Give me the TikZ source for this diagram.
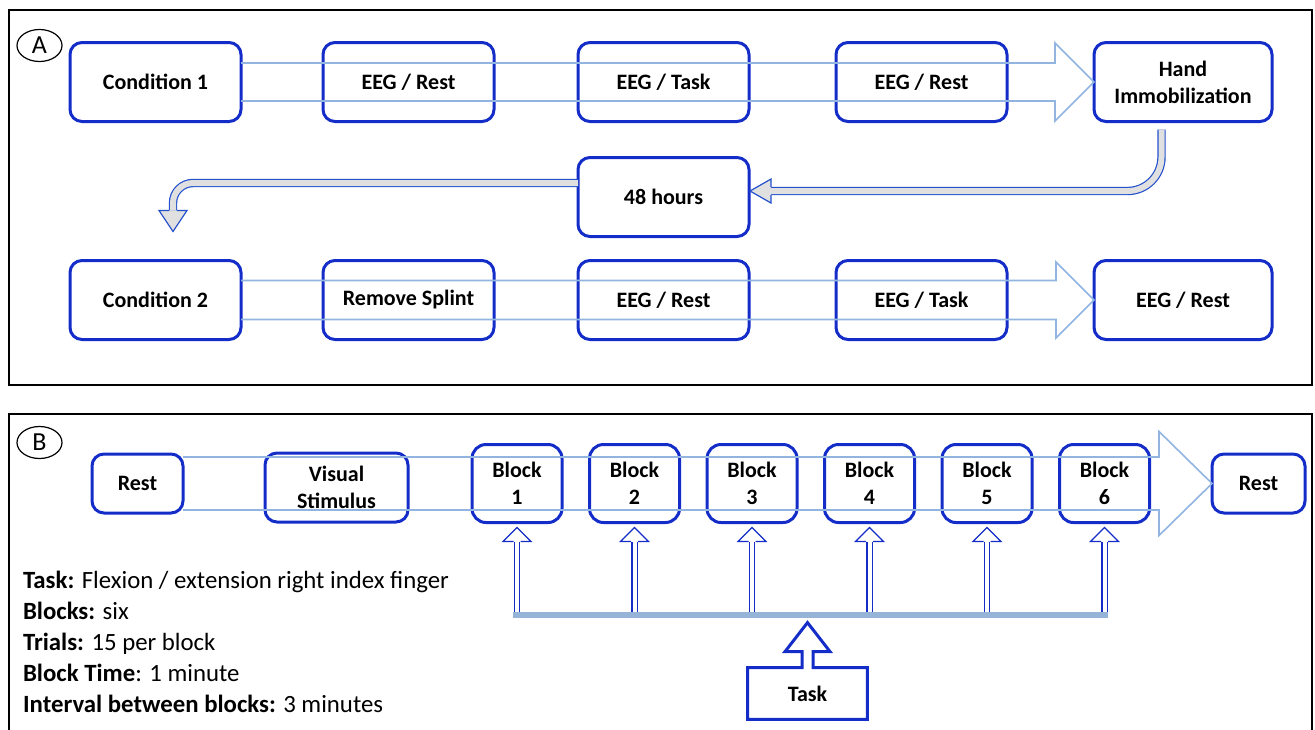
\documentclass[tikz,border=0pt]{standalone}
\usepackage{fontspec}
\setmainfont{Carlito}
\usetikzlibrary{positioning,calc,shapes.geometric}
\definecolor{boxblue}{RGB}{20,45,200}
\definecolor{bandblue}{RGB}{145,180,225}
\definecolor{arrowblue}{RGB}{35,80,205}
\definecolor{barblue}{RGB}{150,180,215}
\tikzset{
    stage/.style={rectangle,rounded corners=6pt,draw=boxblue,line width=1.5pt,outer sep=0pt,minimum width=85.5pt,minimum height=39.5pt,align=center,inner sep=2pt,font=\fontsize{11}{13.5}\selectfont\bfseries},
    block/.style={stage,rounded corners=7pt,minimum width=45pt,minimum height=39pt},
    tag/.style={ellipse,draw,line width=0.6pt,minimum width=22.5pt,minimum height=16pt,inner sep=0pt,font=\fontsize{13}{13}\selectfont},
    band/.style={draw=bandblue,line width=0.8pt},
    hollow/.style={draw=arrowblue,line width=0.6pt,double=black!12,double distance=3pt},
    hollowhead/.style={draw=arrowblue,line width=0.6pt,fill=black!12},
    thinhollow/.style={draw=boxblue,line width=0.6pt,double=white,double distance=2pt},
    thinhead/.style={draw=boxblue,line width=0.6pt,fill=white},
    bar/.style={draw=barblue,line width=3pt},
    callout/.style={draw=boxblue,line width=1.5pt,line join=miter}
}

\begin{document}
\begin{tikzpicture}[x=0.5pt,y=-0.5pt]

    \useasboundingbox (0,0) rectangle (1315,729);

    % panel frames
    \draw[line width=1pt] (9,10) rectangle (1312,385);
    \draw[line width=1pt] (9,740) -- (9,414) -- (1312,414) -- (1312,740);

    \node[tag] (tag a) at (39.5,45.5)  {A};
    \node[tag] (tag b) at (39.5,442.5) {B};

    % panel A, first row
    \node[stage] (cond 1)       at (155.5,82)                   {Condition 1};
    \node[stage] (eeg rest 1)   [right=41pt of cond 1]          {EEG / Rest};
    \node[stage] (eeg task 1)   [right=42pt of eeg rest 1]      {EEG / Task};
    \node[stage] (eeg rest 2)   [right=43.5pt of eeg task 1]    {EEG / Rest};
    \node[stage] (hand)         [right=43.5pt of eeg rest 2,minimum width=89pt] {Hand\\Immobilization};

    \node[stage] (hours)        [below=18pt of eeg task 1]      {48 hours};

    % panel A, second row
    \node[stage] (cond 2)       at (155.5,300)                  {Condition 2};
    \node[stage] (splint)       [right=41pt of cond 2]          {Remove Splint};
    \node[stage] (eeg rest 3)   [right=42pt of splint]          {EEG / Rest};
    \node[stage] (eeg task 2)   [right=43.5pt of eeg rest 3]    {EEG / Task};
    \node[stage] (eeg rest 4)   [right=43.5pt of eeg task 2,minimum width=89pt] {EEG / Rest};

    \draw[band] ($(cond 1.east)+(0,-19)$) -- ($(hand.west)+(-39,-19)$) -- ($(hand.west)+(-39,-39)$)
        -- (hand.west) -- ($(hand.west)+(-39,39)$) -- ($(hand.west)+(-39,19)$) -- ($(cond 1.east)+(0,19)$);
    \draw[band] ($(cond 2.east)+(0,-19.5)$) -- ($(eeg rest 4.west)+(-38,-19.5)$) -- ($(eeg rest 4.west)+(-38,-38)$)
        -- (eeg rest 4.west) -- ($(eeg rest 4.west)+(-38,38)$) -- ($(eeg rest 4.west)+(-38,19.5)$) -- ($(cond 2.east)+(0,19.5)$);

    % hand -> 48 hours
    \coordinate (hours tip) at ($(hours.east)+(1,-6)$);
    \draw[hollow,rounded corners=17pt] ($(hand.south)+(-21.5,8)$) |- ($(hours tip)+(21,0)$);
    \draw[hollowhead] ($(hours tip)+(21,-4)$) -- ($(hours tip)+(21,-12)$) -- (hours tip)
        -- ($(hours tip)+(21,12)$) -- ($(hours tip)+(21,4)$);

    % 48 hours -> condition 2
    \coordinate (cond tip) at ($(cond 2.north)+(17.5,-29)$);
    \draw[hollow,rounded corners=10pt] ($(hours.west)+(0,-14)$) -| ($(cond tip)+(0,-21)$);
    \draw[hollowhead] ($(cond tip)+(-4,-21)$) -- ($(cond tip)+(-14,-21)$) -- (cond tip)
        -- ($(cond tip)+(14,-21)$) -- ($(cond tip)+(4,-21)$);

    % panel B
    \node[stage,minimum width=45.5pt,minimum height=29.5pt] (rest 1) at (137.5,483.5) {Rest};
    \node[stage,minimum width=71.5pt,minimum height=34.5pt] (visual) at (336.5,487.5) {Visual\\Stimulus};
    \node[block] (block 1) at (517,483.5)                   {Block\\1};
    \node[block] (block 2) [right=13.75pt of block 1]       {Block\\2};
    \node[block] (block 3) [right=13.75pt of block 2]       {Block\\3};
    \node[block] (block 4) [right=13.75pt of block 3]       {Block\\4};
    \node[block] (block 5) [right=13.75pt of block 4]       {Block\\5};
    \node[block] (block 6) [right=13.75pt of block 5]       {Block\\6};
    \node[stage,minimum width=46.5pt,minimum height=29.5pt] (rest 2) at (1258.5,483.5) {Rest};

    \draw[band] ($(rest 1.east)+(0,-26.5)$) -- ($(rest 2.west)+(-53,-26.5)$) -- ($(rest 2.west)+(-53,-52)$)
        -- (rest 2.west) -- ($(rest 2.west)+(-53,52)$) -- ($(rest 2.west)+(-53,26.5)$) -- ($(rest 1.east)+(0,26.5)$);

    \coordinate (bar left)  at (513,615);
    \coordinate (bar right) at (1108,615);

    \draw[thinhollow] (block 1.south |- bar left) -- ($(block 1.south)+(0,19)$);
    \draw[thinhead] ($(block 1.south)+(-3.5,19)$) -- ($(block 1.south)+(-14,19)$) -- ($(block 1.south)+(0,5)$) -- ($(block 1.south)+(14,19)$) -- ($(block 1.south)+(3.5,19)$);
    \draw[thinhollow] (block 2.south |- bar left) -- ($(block 2.south)+(0,19)$);
    \draw[thinhead] ($(block 2.south)+(-3.5,19)$) -- ($(block 2.south)+(-14,19)$) -- ($(block 2.south)+(0,5)$) -- ($(block 2.south)+(14,19)$) -- ($(block 2.south)+(3.5,19)$);
    \draw[thinhollow] (block 3.south |- bar left) -- ($(block 3.south)+(0,19)$);
    \draw[thinhead] ($(block 3.south)+(-3.5,19)$) -- ($(block 3.south)+(-14,19)$) -- ($(block 3.south)+(0,5)$) -- ($(block 3.south)+(14,19)$) -- ($(block 3.south)+(3.5,19)$);
    \draw[thinhollow] (block 4.south |- bar left) -- ($(block 4.south)+(0,19)$);
    \draw[thinhead] ($(block 4.south)+(-3.5,19)$) -- ($(block 4.south)+(-14,19)$) -- ($(block 4.south)+(0,5)$) -- ($(block 4.south)+(14,19)$) -- ($(block 4.south)+(3.5,19)$);
    \draw[thinhollow] (block 5.south |- bar left) -- ($(block 5.south)+(0,19)$);
    \draw[thinhead] ($(block 5.south)+(-3.5,19)$) -- ($(block 5.south)+(-14,19)$) -- ($(block 5.south)+(0,5)$) -- ($(block 5.south)+(14,19)$) -- ($(block 5.south)+(3.5,19)$);
    \draw[thinhollow] (block 6.south |- bar left) -- ($(block 6.south)+(0,19)$);
    \draw[thinhead] ($(block 6.south)+(-3.5,19)$) -- ($(block 6.south)+(-14,19)$) -- ($(block 6.south)+(0,5)$) -- ($(block 6.south)+(14,19)$) -- ($(block 6.south)+(3.5,19)$);

    \draw[bar] (bar left) -- (bar right);

    % task callout
    \node[minimum width=59.5pt,minimum height=25.5pt,font=\fontsize{11}{13.5}\selectfont\bfseries] (task) at (807.5,693.5) {Task};
    \draw[callout] (task.north west) -- ($(task.north)+(-5.5,0)$) -- ++(0,-16) -- ++(-17,0) -- ++(22.5,-29)
        -- ++(22.5,29) -- ++(-17,0) -- ++(0,16) -- (task.north east) -- (task.south east) -- (task.south west) -- cycle;

    \node[anchor=west,align=left,font=\fontsize{12.4}{15.5}\selectfont] (notes) at (16,642)
        {\textbf{Task:} Flexion / extension right index finger\\
         \textbf{Blocks:} six\\
         \textbf{Trials:} 15 per block\\
         \textbf{Block Time}: 1 minute\\
         \textbf{Interval between blocks:} 3 minutes};

\end{tikzpicture}
\end{document}
